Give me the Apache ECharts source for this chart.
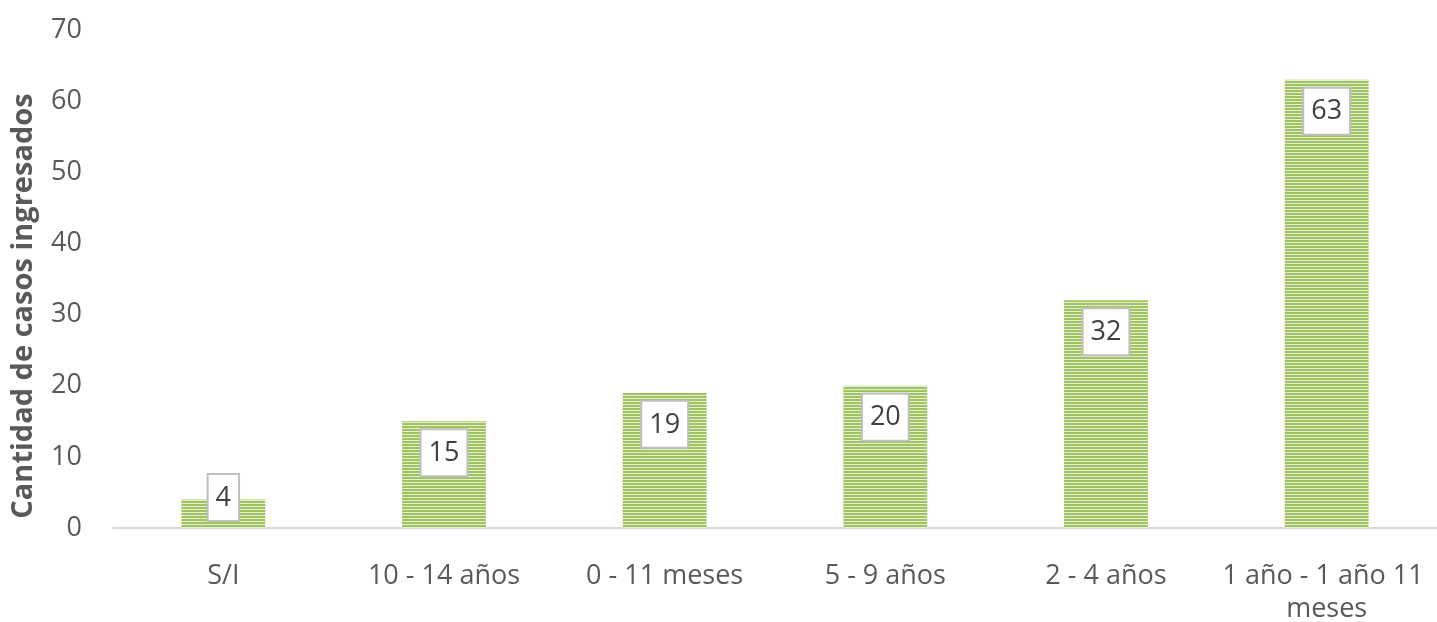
<!DOCTYPE html>
<html lang="es">
  <head>
    <meta charset="UTF-8" />
    <title>Casos ingresados</title>
    <style>
      html, body { margin: 0; padding: 0; background: #fff; }
      #main { width: 1437px; height: 622px; }
    </style>
  </head>
  <body>
    <div id="main"></div>
    <script src="https://cdn.jsdelivr.net/npm/echarts@6/dist/echarts.min.js"></script>
    <script>
      const categories = ['S/I', '10 - 14 años', '0 - 11 meses', '5 - 9 años', '2 - 4 años', '1 año - 1 año 11 meses']
      const values = [4, 15, 19, 20, 32, 63]
      const yTicks = { min: 0, max: 70, interval: 10 }

      // rayas horizontales como en el original
      const stripe = document.createElement('canvas')
      stripe.width = 4
      stripe.height = 3
      const ctx = stripe.getContext('2d')
      ctx.fillStyle = '#9fc35f'
      ctx.fillRect(0, 0, 4, 2)
      ctx.fillStyle = '#e6efd5'
      ctx.fillRect(0, 2, 4, 1)

      const labelBox = {
        show: true,
        position: 'insideTop',
        distance: 9,
        fontFamily: 'Open Sans',
        fontSize: 27,
        lineHeight: 30,
        color: '#404040',
        backgroundColor: '#fff',
        borderColor: '#bfbfbf',
        borderWidth: 2,
        padding: [8, 7, 7, 7]
      }

      const data = values.map(v => {
        if (v < 8) {
          return { value: v, label: { position: 'insideBottom', distance: 8 } }
        }
        return v
      })

      const chart = echarts.init(document.getElementById('main'))
      chart.setOption({
        animation: false,
        grid: { left: 113, right: 0, top: 30, bottom: 94, containLabel: false, outerBoundsMode: 'none' },
        xAxis: {
          type: 'category',
          data: categories,
          axisLine: { lineStyle: { color: '#d9d9d9', width: 2 } },
          axisTick: { show: false },
          axisLabel: {
            interval: 0,
            margin: 32,
            fontFamily: 'Open Sans',
            fontSize: 27,
            color: '#595959',
            lineHeight: 33,
            width: 232,
            overflow: 'break'
          }
        },
        yAxis: {
          type: 'value',
          min: yTicks.min,
          max: yTicks.max,
          interval: yTicks.interval,
          name: 'Cantidad de casos ingresados',
          nameLocation: 'middle',
          nameGap: 75,
          nameTextStyle: {
            fontFamily: 'Open Sans',
            fontSize: 29,
            fontWeight: 'bold',
            color: '#595959',
            padding: [0, 54, 0, 0]
          },
          splitLine: { show: false },
          axisLine: { show: false },
          axisTick: { show: false },
          axisLabel: {
            margin: 31,
            fontFamily: 'Open Sans',
            fontSize: 27,
            color: '#595959'
          }
        },
        series: [
          {
            type: 'bar',
            data: data,
            barCategoryGap: '62%',
            itemStyle: { color: { image: stripe, repeat: 'repeat' } },
            label: labelBox
          }
        ]
      })
    </script>
  </body>
</html>
